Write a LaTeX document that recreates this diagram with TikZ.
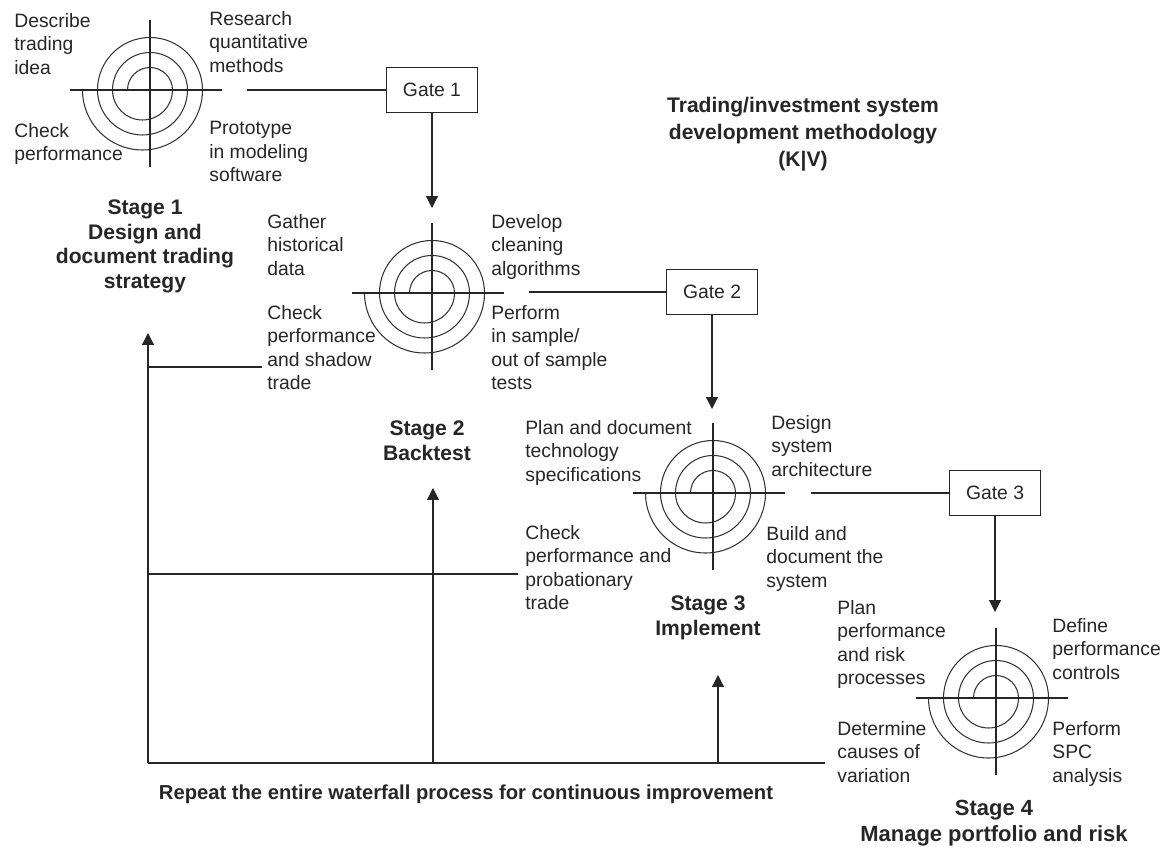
\documentclass[tikz,border=0pt]{standalone}
\usepackage{fontspec}
\setmainfont{Liberation Sans}
\usetikzlibrary{arrows.meta, positioning, calc}
\tikzset{
  % Spiral targets
  crossline/.style={line width=1.4pt, draw=black!85},
  spiralline/.style={line width=0.6pt, draw=black!80},
  pics/target/.style={code={
    \draw[spiralline] (-22.5,0) arc[start angle=180, end angle=0, radius=22.5]
      arc[start angle=0, end angle=-180, radius=30]
      arc[start angle=180, end angle=0, radius=37.5]
      arc[start angle=0, end angle=-180, radius=45]
      arc[start angle=180, end angle=0, radius=52.5]
      arc[start angle=0, end angle=-180, radius=60];
    \draw[crossline, #1] (-80,0) -- (72,0);
    \draw[crossline] (0,70) -- (0,-77);
  }},
  % Text nodes
  steptext/.style={align=left, inner sep=0pt, anchor=north west, text=black!85, font=\fontsize{11}{13.4}\selectfont},
  stagelabel/.style={align=center, inner sep=0pt, anchor=north, text=black!85, font=\fontsize{12}{14.2}\selectfont\bfseries},
  % Gates
  gatebox/.style={draw=black!85, line width=0.7pt, minimum width=1.82cm, minimum height=0.9cm, inner sep=0pt, text=black!85, font=\fontsize{11}{13}\selectfont},
  % Pointers
  gateline/.style={line width=0.7pt, draw=black!85},
  gatepointer/.style={-{Triangle[length=6.8pt, width=6.8pt]}, line width=0.7pt, draw=black!85},
}

\begin{document}
\begin{tikzpicture}[x=0.02cm, y=0.02cm]
  \useasboundingbox (0,0) rectangle (1163,-847);

  % Stage centres
  \coordinate (s1) at (150,-90);
  \coordinate (s2) at (432,-293);
  \coordinate (s3) at (713,-493);
  \coordinate (s4) at (996,-698);
  \pic at (s1) {target};
  \pic at (s2) {target};
  \pic at (s3) {target={line width=0.6pt}};
  \pic at (s4) {target};

  % Stage 1
  \node[steptext] (s1nw) at (14,-13) {Describe\\trading\\idea};
  \node[steptext] (s1ne) at (209,-11) {Research\\quantitative\\methods};
  \node[steptext] (s1sw) at (14,-123) {Check\\performance};
  \node[steptext] (s1se) at (209,-121) {Prototype\\in modeling\\software};
  \node[stagelabel] (lab1) at (145,-199) {Stage 1\\Design and\\document trading\\strategy};

  % Stage 2
  \node[steptext] (s2nw) at (267,-214) {Gather\\historical\\data};
  \node[steptext] (s2ne) at (491,-214) {Develop\\cleaning\\algorithms};
  \node[steptext] (s2sw) at (267,-305) {Check\\performance\\and shadow\\trade};
  \node[steptext] (s2se) at (491,-305) {Perform\\in sample/\\out of sample\\tests};
  \node[stagelabel] (lab2) at (427,-420) {Stage 2\\Backtest};

  % Stage 3
  \node[steptext] (s3nw) at (525,-420) {Plan and document\\technology\\specifications};
  \node[steptext] (s3ne) at (771,-415) {Design\\system\\architecture};
  \node[steptext] (s3sw) at (525,-525) {Check\\performance and\\probationary\\trade};
  \node[steptext] (s3se) at (766,-526) {Build and\\document the\\system};
  \node[stagelabel] (lab3) at (708,-595) {Stage 3\\Implement};

  % Stage 4
  \node[steptext] (s4nw) at (837,-600) {Plan\\performance\\and risk\\processes};
  \node[steptext] (s4ne) at (1052,-618) {Define\\performance\\controls};
  \node[steptext] (s4sw) at (837,-721) {Determine\\causes of\\variation};
  \node[steptext] (s4se) at (1052,-721) {Perform\\SPC\\analysis};
  \node[stagelabel, font=\fontsize{12.5}{14.5}\selectfont\bfseries] (lab4) at (994,-800) {Stage 4\\Manage portfolio and risk};

  % Title
  \node[stagelabel, font=\fontsize{12}{15.3}\selectfont\bfseries] (title) at (803,-97)
    {Trading/investment system\\development methodology\\(K|V)};

  % Gates
  \node[gatebox] (gate1) at (432,-90) {Gate 1};
  \node[gatebox] (gate2) at (712,-292) {Gate 2};
  \node[gatebox] (gate3) at (995,-493) {Gate 3};
  \coordinate (g1in) at (247,-90);
  \coordinate (g2in) at (529,-292);
  \coordinate (g3in) at (811,-493);
  \coordinate (s2top) at (432,-208);
  \coordinate (s3top) at (712,-409);
  \coordinate (s4top) at (995,-612);
  \draw[gateline] (g1in) -- (gate1);
  \draw[gateline] (g2in) -- (gate2);
  \draw[gateline] (g3in) -- (gate3);
  \draw[gatepointer] (gate1) -- (s2top);
  \draw[gatepointer] (gate2) -- (s3top);
  \draw[gatepointer] (gate3) -- (s4top);

  % Feedback loop
  \coordinate (fbcorner) at (148,-763);
  \coordinate (fbend) at (825,-763);
  \coordinate (fb1) at (148,-333);
  \coordinate (fb2) at (433,-488);
  \coordinate (fb3) at (718,-675);
  \coordinate (s2out) at (262,-367);
  \coordinate (s3out) at (518,-574);
  \draw[gateline] (fbend) -- (fbcorner);
  \draw[gatepointer] (fbcorner) -- (fb1);
  \draw[gatepointer] (fbcorner -| fb2) -- (fb2);
  \draw[gatepointer] (fbcorner -| fb3) -- (fb3);
  \draw[gateline] (s2out) -- (s2out -| fbcorner);
  \draw[gateline] (s3out) -- (s3out -| fbcorner);
  \node[text=black!85, font=\fontsize{11.5}{13}\selectfont\bfseries] (repeat) at (466,-794)
    {Repeat the entire waterfall process for continuous improvement};
\end{tikzpicture}
\end{document}
